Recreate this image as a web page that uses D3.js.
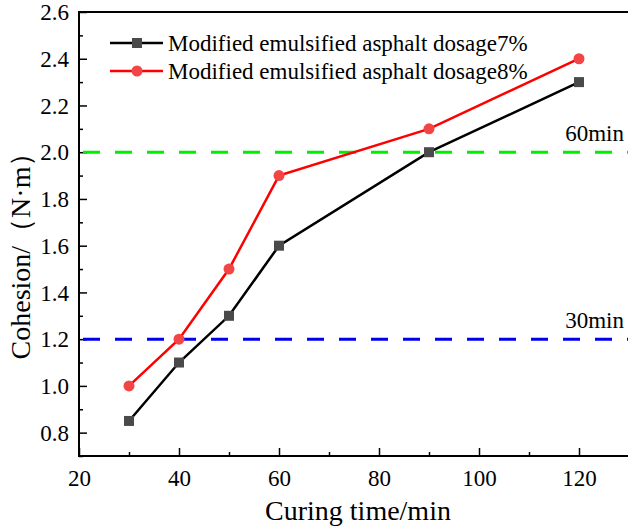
<!DOCTYPE html>
<html>
<head>
<meta charset="utf-8">
<script src="https://cdn.jsdelivr.net/npm/d3@7"></script>
<style>
  body { margin: 0; background: #fff; }
  svg { display: block; }
</style>
</head>
<body>
<div id="chart"></div>
<script>
// data
var curingTime = [30, 40, 50, 60, 90, 120];
var dosage7 = [0.85, 1.1, 1.3, 1.6, 2.0, 2.3];
var dosage8 = [1.0, 1.2, 1.5, 1.9, 2.1, 2.4];
var seriesNames = ["Modified emulsified asphalt dosage7%", "Modified emulsified asphalt dosage8%"];
var refValues = [2.0, 1.2];
var refLabels = ["60min", "30min"];
var xTicks = [20, 40, 60, 80, 100, 120];
var yTicks = [0.8, 1.0, 1.2, 1.4, 1.6, 1.8, 2.0, 2.2, 2.4, 2.6];

var serif = "'Liberation Serif', 'Times New Roman', serif";
var svgWidth = 628;
var svgHeight = 530;
var margin = { top: 12, right: -1, bottom: 74, left: 79 };
var width = svgWidth - margin.left - margin.right;
var height = svgHeight - margin.top - margin.bottom;

var svg = d3.select("#chart")
  .append("svg")
  .attr("width", svgWidth)
  .attr("height", svgHeight)
  .style("font-family", serif);

var chartGroup = svg.append("g")
  .attr("transform", `translate(${margin.left}, ${margin.top})`);

var xScale = d3.scaleLinear().domain([20, 130]).range([0, width]);
var yScale = d3.scaleLinear().domain([0.7, 2.6]).range([height, 0]);

// minor ticks first, then major
var xMinor = d3.axisBottom(xScale).tickValues(d3.range(30, 130, 20)).tickSize(-4).tickFormat("");
var yMinor = d3.axisLeft(yScale).tickValues(d3.range(0.7, 2.6, 0.2)).tickSize(-4).tickFormat("");
chartGroup.append("g").attr("transform", `translate(0, ${height})`).call(xMinor);
chartGroup.append("g").call(yMinor);

var bottomAxis = d3.axisBottom(xScale).tickValues(xTicks).tickSize(-8).tickPadding(0).tickFormat(d3.format("d"));
var leftAxis = d3.axisLeft(yScale).tickValues(yTicks).tickSize(-8).tickPadding(10).tickFormat(d3.format(".1f"));

var xAxis = chartGroup.append("g")
  .attr("transform", `translate(0, ${height})`)
  .call(bottomAxis);
var yAxis = chartGroup.append("g").call(leftAxis);

chartGroup.selectAll(".tick line").attr("stroke", "#000").attr("stroke-width", 1.5);
chartGroup.selectAll(".domain").remove();
chartGroup.selectAll(".tick text")
  .style("font-family", serif)
  .style("font-size", "23px")
  .attr("fill", "#000");
xAxis.selectAll(".tick text").attr("y", 30).attr("dy", null);
yAxis.selectAll(".tick text").attr("x", -10).attr("dy", "0.33em");

// frame
chartGroup.append("rect")
  .attr("x", 0).attr("y", 0)
  .attr("width", width).attr("height", height)
  .attr("fill", "none").attr("stroke", "#000").attr("stroke-width", 2);

// reference lines
var refColors = ["#00ee00", "#0000ee"];
refValues.forEach(function(v, i) {
  chartGroup.append("line")
    .attr("x1", 0).attr("x2", width)
    .attr("y1", yScale(v)).attr("y2", yScale(v))
    .attr("stroke", refColors[i])
    .attr("stroke-width", 3)
    .attr("stroke-dasharray", "17,15")
    .attr("stroke-dashoffset", -4);
  chartGroup.append("text")
    .attr("x", 545)
    .attr("y", yScale(v) - 11)
    .attr("text-anchor", "end")
    .style("font-size", "23px")
    .text(refLabels[i]);
});

var line = d3.line()
  .x(function(d, i) { return xScale(curingTime[i]); })
  .y(function(d) { return yScale(d); });

// dosage 7%
chartGroup.append("path")
  .datum(dosage7)
  .attr("d", line)
  .attr("fill", "none")
  .attr("stroke", "#000")
  .attr("stroke-width", 2.5);
chartGroup.selectAll(".sq")
  .data(dosage7)
  .enter()
  .append("rect")
  .attr("x", function(d, i) { return xScale(curingTime[i]) - 5; })
  .attr("y", function(d) { return yScale(d) - 5; })
  .attr("width", 10).attr("height", 10)
  .attr("fill", "#4a4a4a");

// dosage 8%
chartGroup.append("path")
  .datum(dosage8)
  .attr("d", line)
  .attr("fill", "none")
  .attr("stroke", "#ff0000")
  .attr("stroke-width", 2.5);
chartGroup.selectAll(".dot")
  .data(dosage8)
  .enter()
  .append("circle")
  .attr("cx", function(d, i) { return xScale(curingTime[i]); })
  .attr("cy", function(d) { return yScale(d); })
  .attr("r", 5.5)
  .attr("fill", "#f24545");

// legend
var legend = chartGroup.append("g").attr("transform", "translate(31, 31)");
var legendRows = [
  { name: seriesNames[0], color: "#000", marker: "square", fill: "#4a4a4a" },
  { name: seriesNames[1], color: "#ff0000", marker: "circle", fill: "#f24545" }
];
legendRows.forEach(function(r, i) {
  var g = legend.append("g").attr("transform", `translate(0, ${i * 28})`);
  g.append("line").attr("x1", 0).attr("x2", 53).attr("y1", 0).attr("y2", 0)
    .attr("stroke", r.color).attr("stroke-width", 2.5);
  if (r.marker === "square") {
    g.append("rect").attr("x", 22).attr("y", -5).attr("width", 10).attr("height", 10).attr("fill", r.fill);
  } else {
    g.append("circle").attr("cx", 27).attr("cy", 0).attr("r", 5.5).attr("fill", r.fill);
  }
  g.append("text").attr("x", 58).attr("y", 0).attr("dy", "0.33em")
    .style("font-size", "23px")
    .text(r.name);
});

// axis titles
svg.append("text")
  .attr("x", 358)
  .attr("y", 520)
  .attr("text-anchor", "middle")
  .style("font-size", "28px")
  .text("Curing time/min");

svg.append("text")
  .attr("transform", "translate(30, 249) rotate(-90)")
  .attr("text-anchor", "middle")
  .style("font-size", "28px")
  .text("Cohesion/（N·m）");
</script>
</body>
</html>
